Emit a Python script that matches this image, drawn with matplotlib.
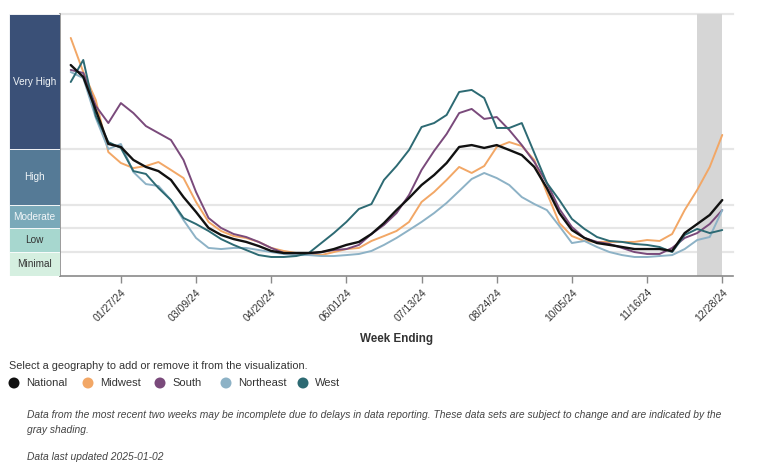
import matplotlib
matplotlib.use("Agg")
import matplotlib.pyplot as plt
import matplotlib.dates as mdates
import numpy as np
import datetime as dt

plt.rcParams['font.family'] = ['Liberation Sans', 'DejaVu Sans']

# ---------------- data ----------------
week_start = "2023-12-30"
n_weeks = 53
weeks = [np.datetime64(week_start) + np.timedelta64(7 * i, 'D') for i in range(n_weeks)]

national = [13.31, 12.56, 10.47, 8.33, 8.14, 7.32, 6.88, 6.62, 6.06, 4.98,
            4.04, 3.03, 2.59, 2.33, 2.15, 1.89, 1.58, 1.45, 1.45, 1.45,
            1.51, 1.70, 1.96, 2.15, 2.65, 3.34, 4.16, 4.92, 5.74, 6.37,
            7.13, 8.14, 8.26, 8.08, 8.26, 7.95, 7.63, 6.88, 5.55, 3.97,
            2.90, 2.40, 2.08, 1.96, 1.83, 1.70, 1.70, 1.70, 1.58, 2.71,
            3.28, 3.85, 4.79]
midwest = [15.02, 12.87, 11.10, 7.82, 7.13, 6.81, 6.94, 7.19, 6.69, 6.18,
           4.67, 3.41, 2.84, 2.52, 2.40, 2.15, 1.77, 1.58, 1.45, 1.39,
           1.32, 1.51, 1.70, 1.77, 2.21, 2.52, 2.84, 3.41, 4.67, 5.30,
           6.06, 6.88, 6.50, 6.94, 8.14, 8.45, 8.20, 7.32, 5.24, 3.34,
           2.52, 2.21, 2.15, 2.15, 2.15, 2.15, 2.27, 2.21, 2.65, 4.16,
           5.43, 6.88, 8.90]
south = [13.00, 12.81, 10.73, 9.65, 10.91, 10.28, 9.46, 9.02, 8.58, 7.32,
         5.30, 3.66, 3.03, 2.65, 2.46, 2.15, 1.77, 1.45, 1.32, 1.39,
         1.51, 1.64, 1.70, 1.96, 2.65, 3.22, 3.97, 5.11, 6.69, 7.89,
         8.96, 10.28, 10.54, 9.91, 10.03, 9.21, 8.26, 7.19, 5.87, 4.23,
         3.09, 2.40, 2.15, 2.02, 1.77, 1.51, 1.39, 1.39, 1.77, 2.40,
         2.71, 3.28, 4.16]
northeast = [12.87, 12.49, 9.97, 8.01, 8.33, 6.56, 5.80, 5.68, 4.79, 3.53,
             2.40, 1.77, 1.70, 1.77, 1.77, 1.64, 1.51, 1.39, 1.32, 1.32,
             1.26, 1.26, 1.32, 1.39, 1.58, 1.96, 2.40, 2.90, 3.41, 3.97,
             4.61, 5.36, 6.12, 6.50, 6.18, 5.74, 4.98, 4.54, 4.16, 3.15,
             2.08, 2.21, 1.83, 1.51, 1.32, 1.20, 1.20, 1.26, 1.32, 1.70,
             2.27, 2.46, 4.16]
west = [12.24, 13.63, 10.09, 8.45, 8.08, 6.62, 6.44, 5.55, 4.79, 3.66,
        3.28, 2.84, 2.33, 1.96, 1.64, 1.32, 1.20, 1.20, 1.26, 1.45,
        2.08, 2.71, 3.41, 4.23, 4.54, 6.06, 6.94, 7.95, 9.40, 9.65,
        10.16, 11.61, 11.74, 11.23, 9.34, 9.34, 9.65, 7.76, 5.87, 4.79,
        3.60, 2.97, 2.46, 2.21, 2.15, 2.02, 1.96, 1.83, 1.51, 2.59,
        2.97, 2.71, 2.90]

series_names = ["National", "Midwest", "South", "Northeast", "West"]
series_colors = ["#111111", "#f2a766", "#7a4a7b", "#8db2c6", "#2d6a73"]

level_names = ["Minimal", "Low", "Moderate", "High", "Very High"]
level_edges = [0, 1.5, 3.0, 4.5, 8.0, 16.53]
level_colors = ["#d5efe0", "#a7d7cf", "#7aa9b9", "#557a96", "#3a5077"]
level_text_colors = ["#333333", "#333333", "#f2f6f8", "#f2f6f8", "#f2f6f8"]

tick_labels = ["01/27/24", "03/09/24", "04/20/24", "06/01/24", "07/13/24",
               "08/24/24", "10/05/24", "11/16/24", "12/28/24"]
shade_start, shade_end = "2024-12-14", "2024-12-28"

# ---------------- figure ----------------
W, H = 760, 469
fig = plt.figure(figsize=(W / 100, H / 100), dpi=100)
fig.patch.set_facecolor("white")

ax_l, ax_r, ax_t, ax_b = 60, 733, 14, 276
ax = fig.add_axes([ax_l / W, 1 - ax_b / H, (ax_r - ax_l) / W, (ax_b - ax_t) / H])

x0 = weeks[0] - np.timedelta64(6, 'D')
x1 = weeks[-1] + np.timedelta64(6, 'D')
ax.set_xlim(mdates.date2num(x0), mdates.date2num(x1))
ax.set_ylim(level_edges[0], level_edges[-1])

# gridlines at thresholds and top
for e in level_edges[1:]:
    ax.axhline(e, color="#e6e6e6", lw=1.6, zorder=1, clip_on=False)

# gray shading
ax.axvspan(mdates.date2num(np.datetime64(shade_start)),
           mdates.date2num(np.datetime64(shade_end)),
           color="#d6d6d6", lw=0, zorder=1.5)

xd = mdates.date2num(weeks)
order = [1, 2, 3, 4, 0]
for i in order:
    data = [national, midwest, south, northeast, west][i]
    lw = 1.7 if i == 0 else 1.4
    ax.plot(xd, data, color=series_colors[i], lw=lw, zorder=3 + (1 if i == 0 else 0),
            solid_joinstyle="round", solid_capstyle="round")

for s in ["top", "right"]:
    ax.spines[s].set_visible(False)
for s in ["left", "bottom"]:
    ax.spines[s].set_color("#8a8a8a")
    ax.spines[s].set_linewidth(1.2)

ax.set_yticks([])
tick_dates = [mdates.date2num(dt.datetime.strptime(t, "%m/%d/%y")) for t in tick_labels]
ax.set_xticks(tick_dates)
ax.set_xticklabels(tick_labels, rotation=45, ha="right", rotation_mode="anchor",
                   fontsize=7.6, color="#333333")
ax.tick_params(axis="x", length=5, width=1, color="#8a8a8a", pad=3)
ax.set_xlabel("Week Ending", fontsize=8.4, fontweight="bold", color="#333333", labelpad=7)

# level bands on the left
band = fig.add_axes([9 / W, 1 - ax_b / H, (60 - 9) / W, (ax_b - ax_t) / H])
band.set_xlim(0, 1)
band.set_ylim(level_edges[0], level_edges[-1])
band.axis("off")
for i, name in enumerate(level_names):
    lo, hi = level_edges[i], level_edges[i + 1]
    band.bar(0.5, hi - lo, bottom=lo, width=1.0, color=level_colors[i],
             edgecolor="white", linewidth=0.6)
    band.text(0.5, (lo + hi) / 2, name, ha="center", va="center",
              fontsize=7.2, color=level_text_colors[i])

# legend / notes
fig.text(9 / W, 1 - 366 / H, "Select a geography to add or remove it from the visualization.",
         fontsize=7.8, color="#333333", va="center", ha="left")
leg_x = [14, 88, 160, 226, 303]
for i, name in enumerate(series_names):
    fig.patches.append(matplotlib.patches.Ellipse(
        (leg_x[i] / W, 1 - 383 / H), 11 / W, 11 / H, transform=fig.transFigure,
        facecolor=series_colors[i], edgecolor="none"))
    fig.text((leg_x[i] + 12) / W, 1 - 383 / H, name, fontsize=8, color="#333333",
             va="center", ha="left")

fig.text(27 / W, 1 - 415 / H,
         "Data from the most recent two weeks may be incomplete due to delays in data reporting. "
         "These data sets are subject to change and are indicated by the",
         fontsize=7.4, style="italic", color="#444444", va="center", ha="left")
fig.text(27 / W, 1 - 430 / H, "gray shading.", fontsize=7.4, style="italic",
         color="#444444", va="center", ha="left")
fig.text(27 / W, 1 - 457 / H, "Data last updated 2025-01-02", fontsize=7.4, style="italic",
         color="#444444", va="center", ha="left")

fig.savefig("out.png", dpi=100, facecolor="white")
